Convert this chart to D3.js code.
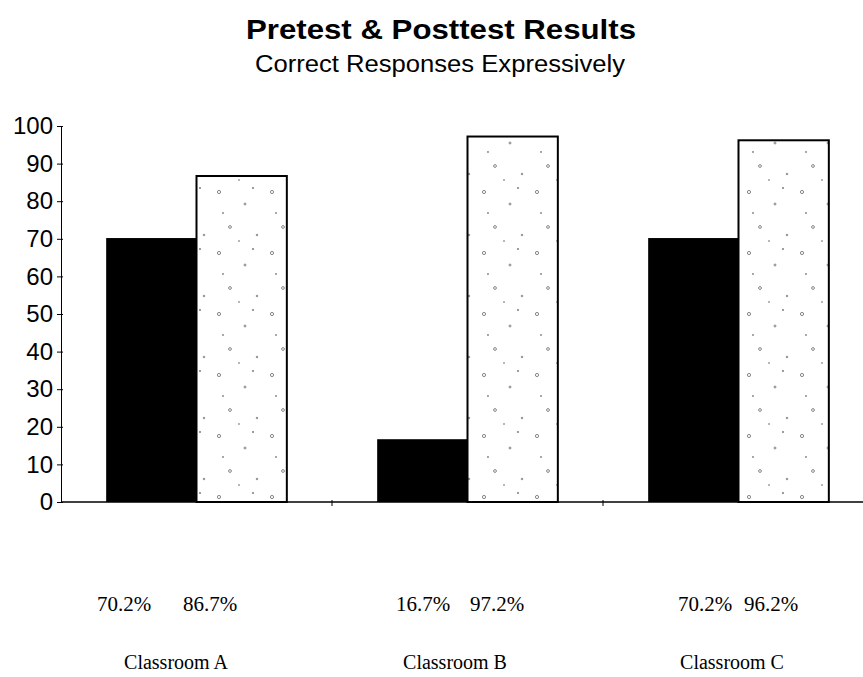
<!DOCTYPE html>
<html>
<head>
<meta charset="utf-8">
<script src="https://cdn.jsdelivr.net/npm/d3@7"></script>
<style>
  html, body { margin: 0; padding: 0; background: #fff; }
  svg { display: block; }
</style>
</head>
<body>
<svg id="chart" width="863" height="677"></svg>
<script>
// ---- data ----
const categories = ["Classroom A", "Classroom B", "Classroom C"];
const pretest = [70.2, 16.7, 70.2];
const posttest = [86.7, 97.2, 96.2];
const yTicks = [0, 10, 20, 30, 40, 50, 60, 70, 80, 90, 100];
const title = "Pretest & Posttest Results";
const subtitle = "Correct Responses Expressively";

(function () {
// ---- layout ----
const svg = d3.select("#chart");
const W = 863;
const plotLeft = 61, plotTop = 126, plotBottom = 502;
const bandW = 271;
// label offsets inside each band (layout only)
const preLabelDx = [63, 91, 102];
const postLabelDx = [149, 165, 168];
const catLabelDx = [115, 123, 129];

const x = d3.scaleBand()
  .domain(categories)
  .range([plotLeft, plotLeft + bandW * categories.length])
  .paddingInner(0).paddingOuter(0);

const y = d3.scaleLinear().domain([0, 100]).range([plotBottom, plotTop]);

const sub = d3.scaleBand().domain(["pre", "post"])
  .range([0, bandW]).paddingInner(0).paddingOuter(0.5);

// texture pattern for posttest bars
const defs = svg.append("defs");
const pat = defs.append("pattern").attr("id", "speckle")
  .attr("patternUnits", "userSpaceOnUse").attr("width", 53).attr("height", 61);
pat.append("rect").attr("width", 53).attr("height", 61).attr("fill", "#fff");
[[7,9,1.6],[33,21,1.0],[18,44,1.4],[45,52,0.8],[41,5,0.7],[11,30,0.6],[27,58,0.5]].forEach(d => {
  pat.append("circle").attr("cx", d[0]).attr("cy", d[1]).attr("r", d[2])
    .attr("fill", "none").attr("stroke", "#555").attr("stroke-width", 0.7);
});

// title
svg.append("text").attr("x", 441).attr("y", 39)
  .attr("text-anchor", "middle")
  .attr("font-family", "Liberation Sans, Arial, sans-serif")
  .attr("font-weight", "bold").attr("font-size", 28)
  .attr("textLength", 390).attr("lengthAdjust", "spacingAndGlyphs")
  .text(title);
svg.append("text").attr("x", 440).attr("y", 72)
  .attr("text-anchor", "middle")
  .attr("font-family", "Liberation Sans, Arial, sans-serif")
  .attr("font-size", 23)
  .attr("textLength", 370).attr("lengthAdjust", "spacingAndGlyphs")
  .text(subtitle);

// bars
const g = svg.append("g");
categories.forEach((c, i) => {
  const x0 = x(c);
  g.append("rect")
    .attr("x", x0 + sub("pre")).attr("y", y(pretest[i]))
    .attr("width", sub.bandwidth()).attr("height", y(0) - y(pretest[i]))
    .attr("fill", "#000");
  g.append("rect")
    .attr("x", x0 + sub("post")).attr("y", y(posttest[i]))
    .attr("width", sub.bandwidth()).attr("height", y(0) - y(posttest[i]))
    .attr("fill", "url(#speckle)").attr("stroke", "#000").attr("stroke-width", 2);
});

// y axis
const yAxis = d3.axisLeft(y).tickValues(yTicks).tickSize(3).tickSizeOuter(0)
  .tickFormat(d3.format("d"));
const ya = svg.append("g").attr("transform", `translate(${plotLeft},0)`).call(yAxis);
ya.selectAll(".tick line").attr("x2", 2).attr("x1", -4).attr("stroke", "#000");
ya.select(".domain").attr("stroke", "#000");
ya.selectAll("text")
  .attr("font-family", "Liberation Sans, Arial, sans-serif")
  .attr("font-size", 24).attr("fill", "#000").attr("x", -8);

// x axis
const xa = svg.append("g").attr("transform", `translate(0,${y(0)})`);
xa.append("line").attr("x1", plotLeft).attr("x2", W).attr("y1", 0).attr("y2", 0)
  .attr("stroke", "#000").attr("stroke-width", 1.5);
categories.slice(1).forEach(c => {
  xa.append("line").attr("x1", x(c)).attr("x2", x(c)).attr("y1", -2).attr("y2", 4)
    .attr("stroke", "#000");
});

// value labels and category labels
const fmt = v => v.toFixed(1) + "%";
const serif = "Liberation Serif, Times New Roman, serif";
categories.forEach((c, i) => {
  const x0 = x(c);
  svg.append("text").attr("x", x0 + preLabelDx[i]).attr("y", 611)
    .attr("text-anchor", "middle").attr("font-family", serif)
    .attr("font-size", 21).text(fmt(pretest[i]));
  svg.append("text").attr("x", x0 + postLabelDx[i]).attr("y", 611)
    .attr("text-anchor", "middle").attr("font-family", serif)
    .attr("font-size", 21).text(fmt(posttest[i]));
  svg.append("text").attr("x", x0 + catLabelDx[i]).attr("y", 669)
    .attr("text-anchor", "middle").attr("font-family", serif)
    .attr("font-size", 20).text(c);
});
})();
</script>
</body>
</html>
